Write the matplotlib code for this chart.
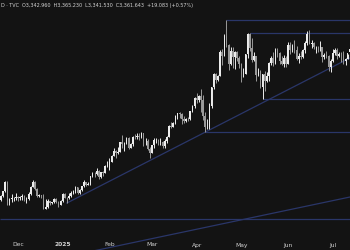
import pandas as pd
import matplotlib.pyplot as plt
import matplotlib.transforms as mtransforms

# daily gold candles, 19 Nov 2024 .. 11 Jul 2025 (TVC)
opens = [2612, 2631, 2650, 2670, 2712, 2625, 2633, 2638, 2640,
         2643, 2640, 2643, 2650, 2632, 2633, 2660, 2694, 2718, 2680, 2648, 2652, 2646, 2587, 2594,
         2622, 2613, 2617, 2634, 2621, 2606,
         2624, 2658, 2640, 2636, 2648, 2662, 2670, 2690, 2663, 2677, 2696, 2715, 2702, 2708, 2745,
         2755, 2754, 2771, 2740, 2763, 2760, 2794,
         2798, 2815, 2842, 2867, 2856, 2861, 2908, 2898, 2904, 2928, 2882, 2898, 2935, 2933, 2939,
         2936, 2951, 2914, 2916, 2876,
         2857, 2893, 2918, 2920, 2910, 2910, 2889, 2916, 2934, 2988, 2984, 3001, 3035, 3048, 3044,
         3022, 3012, 3020, 3019, 3058, 3085,
         3124, 3113, 3134, 3114, 3037, 2982, 2982, 3083, 3175, 3237, 3211, 3230, 3343, 3327, 3424,
         3381, 3288, 3349, 3319, 3343, 3317,
         3289, 3238, 3241, 3334, 3431, 3366, 3306, 3325, 3236, 3249, 3178, 3240, 3203, 3230, 3290,
         3314, 3294, 3357, 3342, 3300, 3288, 3318,
         3289, 3381, 3353, 3373, 3353, 3310, 3325, 3323, 3355, 3387, 3433, 3384, 3388, 3369, 3370,
         3368, 3368, 3323, 3332, 3328, 3273,
         3303, 3338, 3357, 3326, 3337, 3335, 3301, 3313, 3342.96]
highs = [2639, 2651, 2674, 2721, 2721, 2638, 2657, 2645, 2665,
         2649, 2650, 2657, 2655, 2645, 2668, 2697, 2726, 2722, 2685, 2657, 2654, 2658, 2634, 2632,
         2625, 2620, 2639, 2638, 2623, 2630,
         2662, 2665, 2643, 2664, 2670, 2675, 2698, 2693, 2680, 2698, 2724, 2717, 2714, 2746, 2763,
         2762, 2786, 2773, 2765, 2770, 2800, 2817,
         2831, 2845, 2882, 2870, 2886, 2911, 2942, 2908, 2936, 2933, 2904, 2937, 2947, 2955, 2954,
         2956, 2953, 2927, 2923, 2883,
         2894, 2928, 2930, 2925, 2930, 2914, 2923, 2940, 2990, 3005, 3004, 3038, 3048, 3057, 3048,
         3033, 3024, 3032, 3060, 3087, 3128,
         3149, 3138, 3168, 3136, 3055, 3023, 3099, 3176, 3245, 3245, 3232, 3357, 3358, 3430, 3500,
         3386, 3367, 3371, 3350, 3352, 3328,
         3292, 3269, 3335, 3436, 3438, 3414, 3347, 3326, 3266, 3256, 3240, 3252, 3250, 3295, 3325,
         3345, 3366, 3365, 3345, 3325, 3330, 3326,
         3393, 3392, 3385, 3403, 3375, 3340, 3349, 3359, 3398, 3446, 3452, 3403, 3395, 3376, 3375,
         3398, 3369, 3340, 3350, 3329, 3310,
         3358, 3365, 3366, 3343, 3344, 3348, 3318, 3335, 3365.23]
lows = [2605, 2625, 2644, 2667, 2605, 2604, 2620, 2625, 2630,
        2622, 2630, 2630, 2625, 2614, 2630, 2655, 2690, 2678, 2643, 2644, 2636, 2583, 2584, 2588,
        2603, 2609, 2616, 2616, 2597, 2605,
        2621, 2636, 2614, 2632, 2643, 2656, 2665, 2656, 2660, 2670, 2690, 2698, 2700, 2700, 2738,
        2741, 2750, 2730, 2736, 2745, 2757, 2790,
        2772, 2811, 2840, 2834, 2853, 2860, 2880, 2865, 2902, 2877, 2880, 2890, 2923, 2923, 2917,
        2927, 2888, 2895, 2873, 2833,
        2856, 2880, 2904, 2894, 2897, 2880, 2880, 2905, 2932, 2978, 2982, 2998, 3022, 3025, 2999,
        3002, 3007, 3012, 3016, 3055, 3076,
        3100, 3105, 3054, 3015, 2957, 2970, 2970, 3073, 3168, 3194, 3206, 3228, 3284, 3325, 3367,
        3260, 3280, 3269, 3261, 3300, 3268,
        3202, 3223, 3238, 3318, 3349, 3295, 3302, 3207, 3228, 3172, 3120, 3154, 3200, 3205, 3283,
        3278, 3287, 3323, 3285, 3282, 3271, 3271,
        3289, 3333, 3344, 3340, 3307, 3294, 3310, 3316, 3340, 3380, 3382, 3366, 3362, 3340, 3345,
        3348, 3295, 3312, 3317, 3255, 3248,
        3297, 3330, 3311, 3322, 3297, 3287, 3282, 3310, 3341.53]
closes = [2631, 2650, 2670, 2715, 2625, 2633, 2638, 2640, 2643,
          2640, 2643, 2650, 2632, 2633, 2660, 2694, 2718, 2680, 2648, 2652, 2646, 2587, 2594, 2622,
          2613, 2617, 2634, 2621, 2606, 2624,
          2658, 2640, 2636, 2648, 2662, 2670, 2690, 2663, 2677, 2696, 2715, 2702, 2708, 2745, 2755,
          2754, 2771, 2740, 2763, 2760, 2794, 2798,
          2815, 2842, 2867, 2856, 2861, 2908, 2898, 2904, 2928, 2882, 2898, 2935, 2933, 2939, 2936,
          2951, 2914, 2916, 2876, 2857,
          2893, 2918, 2920, 2910, 2910, 2889, 2916, 2934, 2988, 2984, 3001, 3035, 3048, 3044, 3022,
          3012, 3020, 3019, 3058, 3085, 3124,
          3113, 3134, 3114, 3037, 2982, 2982, 3083, 3175, 3237, 3211, 3230, 3343, 3327, 3424, 3381,
          3288, 3349, 3319, 3343, 3317, 3289,
          3238, 3241, 3334, 3431, 3366, 3306, 3325, 3236, 3249, 3178, 3240, 3203, 3230, 3290, 3314,
          3294, 3357, 3342, 3300, 3288, 3318, 3289,
          3381, 3353, 3373, 3353, 3310, 3325, 3323, 3355, 3387, 3433, 3384, 3388, 3369, 3370, 3368,
          3368, 3323, 3332, 3328, 3273, 3303,
          3338, 3357, 3326, 3337, 3335, 3301, 3313, 3342.56, 3361.64]

holidays = ['2024-12-25', '2025-01-01', '2025-04-18']
month_labels = ['Dec', '2025', 'Feb', 'Mar', 'Apr', 'May', 'Jun', 'Jul']

# levels drawn on the chart: (price, start date)
levels = [(3500, '2025-04-22'), (3435, '2025-05-07'), (3120, '2025-05-15'),
          (2957, '2025-04-07'), (2537, None)]
trend_up = [('2025-01-06', 2614), ('2025-04-07', 2957)]
trend_low = [(49, 2392), (165, 2643)]

header = 'D · TVC  O3,342.960  H3,365.230  L3,341.530  C3,361.643  +19.083 (+0.57%)'

dates = pd.bdate_range('2024-11-19', '2025-07-11')
dates = dates[~dates.isin(pd.to_datetime(holidays))]
df = pd.DataFrame({'open': opens, 'high': highs, 'low': lows, 'close': closes}, index=dates)
pos = {d: i for i, d in enumerate(df.index)}

bg = '#131313'
line_c = '#2a3669'
up_c = '#ececec'
down_c = '#9a9a9a'

fig = plt.figure(figsize=(3.5, 2.5), dpi=100, facecolor=bg)
ax = fig.add_axes([0, 0, 1, 1])
ax.set_facecolor(bg)

x = list(range(len(df)))
up = df['close'] >= df['open']
colors = [up_c if u else down_c for u in up]
ax.vlines(x, df['low'], df['high'], colors=colors, linewidth=0.7, zorder=3)
ax.bar(x, (df['close'] - df['open']).abs().clip(lower=2),
       bottom=df[['open', 'close']].min(axis=1), width=0.72,
       color=colors, linewidth=0, zorder=4)

x_left, x_right = 0.55, 165.1
for price, start in levels:
    x0 = pos[pd.Timestamp(start)] if start else x_left
    ax.hlines(price, x0, x_right + 2, color=line_c, linewidth=0.9, zorder=2)

(d1, p1), (d2, p2) = trend_up
i1, i2 = pos[pd.Timestamp(d1)], pos[pd.Timestamp(d2)]
slope = (p2 - p1) / (i2 - i1)
ax.plot([i1, x_right + 2], [p1, p1 + slope * (x_right + 2 - i1)],
        color=line_c, linewidth=0.9, zorder=2)
(j1, q1), (j2, q2) = trend_low
ax.plot([j1 - 5, j2 + 2], [q1 - 5 * (q2 - q1) / (j2 - j1), q2 + 2 * (q2 - q1) / (j2 - j1)],
        color=line_c, linewidth=0.9, zorder=2)

ax.set_xlim(x_left, x_right)
ax.set_ylim(2386.7, 3596.8)
ax.axis('off')

# month labels at first trading day of each month
firsts = df.groupby(df.index.to_period('M')).head(1).index[1:]
trans = mtransforms.blended_transform_factory(ax.transData, ax.transAxes)
for d, lab in zip(firsts, month_labels):
    ax.text(pos[d], 0.02, lab, transform=trans, ha='center', va='center',
            fontsize=4.3, color='#d2d2d2',
            fontweight='bold' if lab == '2025' else 'normal')

fig.text(0.002, 0.976, header, ha='left', va='center', fontsize=3.5, color='#d2d2d2')

fig.savefig('out.png', dpi=100, facecolor=bg)
